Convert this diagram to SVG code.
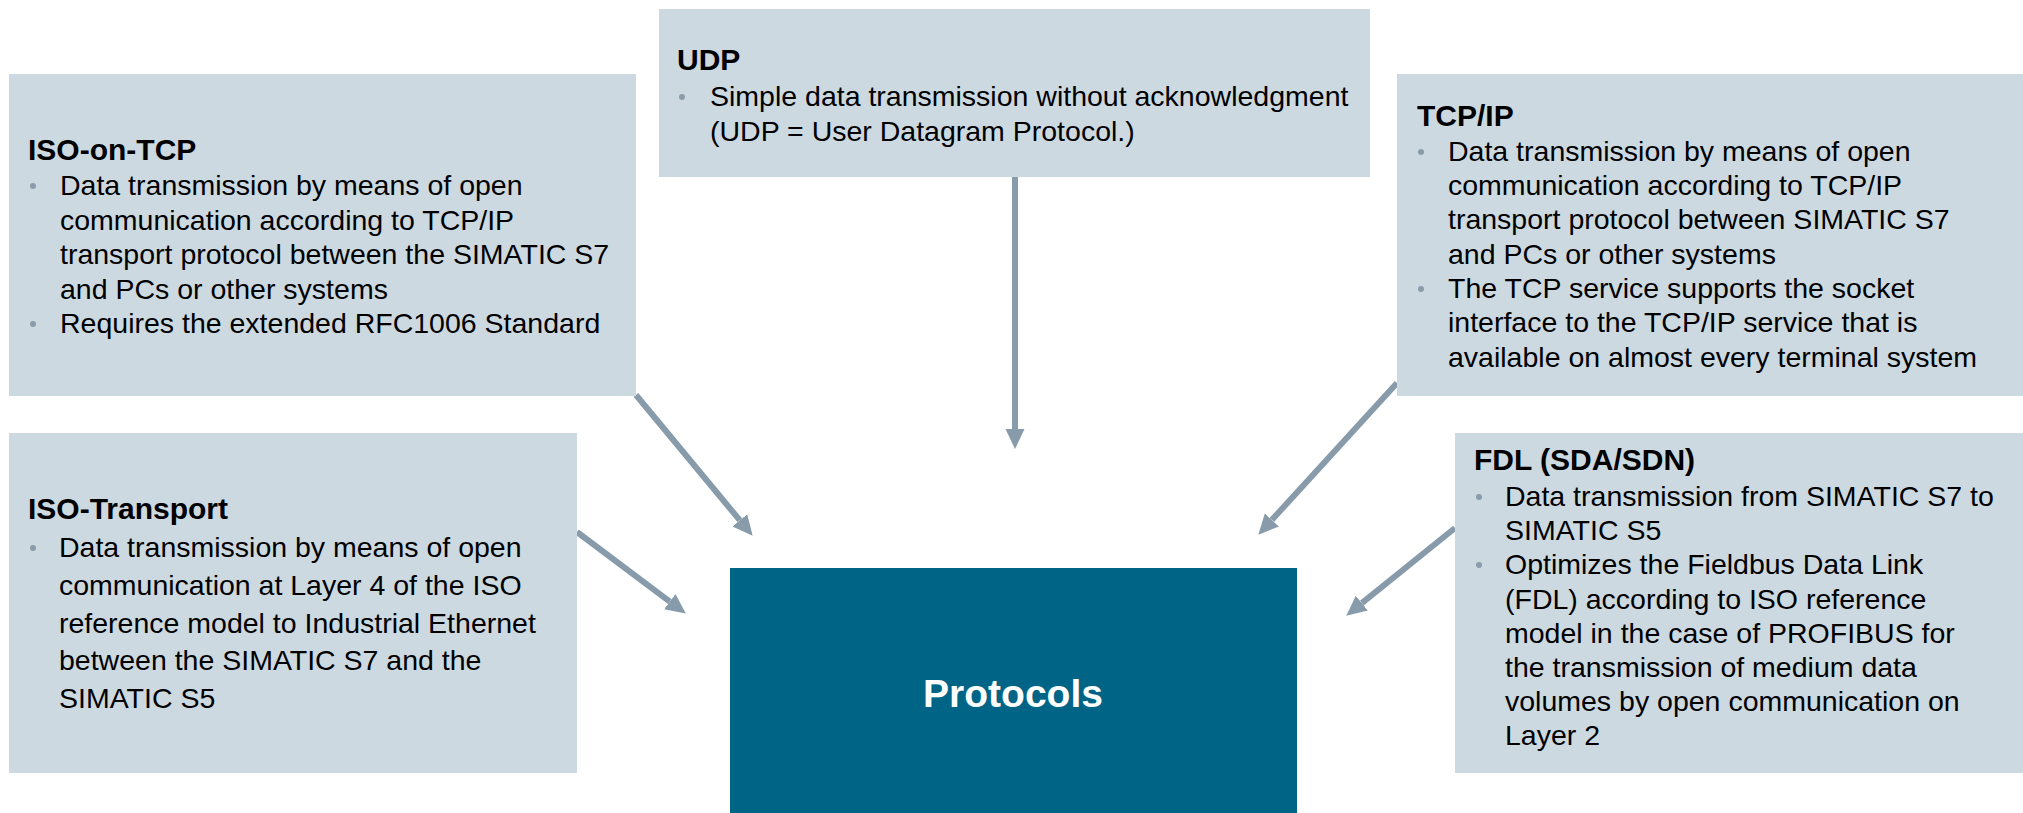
<svg xmlns="http://www.w3.org/2000/svg" width="2023" height="813" viewBox="0 0 2023 813">
<style>
  .box { fill: #cdd9e1; }
  .title { font-family: "Liberation Sans", Arial, sans-serif; font-weight: bold; font-size: 30px; fill: #000; }
  .body { font-family: "Liberation Sans", Arial, sans-serif; font-size: 28.5px; fill: #000; }
  .dot { fill: #8a9cab; }
  .conn { stroke: #879bab; stroke-width: 6; fill: none; marker-end: url(#head); }
  .center { fill: #006487; }
  .ctext { font-family: "Liberation Sans", Arial, sans-serif; font-weight: bold; font-size: 39px; fill: #fff; text-anchor: middle; }
</style>
<defs>
  <marker id="head" markerUnits="userSpaceOnUse" markerWidth="20" markerHeight="20" refX="0" refY="9.5" orient="auto" viewBox="0 0 20 19">
    <path d="M0,0 L20,9.5 L0,19 Z" fill="#879bab"/>
  </marker>
</defs>
<rect width="2023" height="813" fill="#fff"/>

<g id="connectors">
  <path class="conn" d="M636,395 L739.9,520.4"/>
  <path class="conn" d="M577,532 L669.8,601.6"/>
  <path class="conn" d="M1015,177 L1015,429"/>
  <path class="conn" d="M1397,383 L1271.8,520"/>
  <path class="conn" d="M1455,528 L1361.8,603.1"/>
</g>

<g id="node-iso-on-tcp">
  <rect class="box" x="9" y="74" width="627" height="322"/>
  <text class="title" x="28" y="160">ISO-on-TCP</text>
  <circle class="dot" cx="33" cy="186" r="3"/>
  <text class="body" x="60" y="195">Data transmission by means of open</text>
  <text class="body" x="60" y="229.5">communication according to TCP/IP</text>
  <text class="body" x="60" y="264">transport protocol between the SIMATIC S7</text>
  <text class="body" x="60" y="298.5">and PCs or other systems</text>
  <circle class="dot" cx="33" cy="324" r="3"/>
  <text class="body" x="60" y="333">Requires the extended RFC1006 Standard</text>
</g>

<g id="node-udp">
  <rect class="box" x="659" y="9" width="711" height="168"/>
  <text class="title" x="677" y="70">UDP</text>
  <circle class="dot" cx="682" cy="97" r="3"/>
  <text class="body" x="710" y="106">Simple data transmission without acknowledgment</text>
  <text class="body" x="710" y="141">(UDP = User Datagram Protocol.)</text>
</g>

<g id="node-tcp-ip">
  <rect class="box" x="1397" y="74" width="626" height="322"/>
  <text class="title" x="1417" y="126">TCP/IP</text>
  <circle class="dot" cx="1421" cy="152" r="3"/>
  <text class="body" x="1448" y="161">Data transmission by means of open</text>
  <text class="body" x="1448" y="195">communication according to TCP/IP</text>
  <text class="body" x="1448" y="229">transport protocol between SIMATIC S7</text>
  <text class="body" x="1448" y="263.5">and PCs or other systems</text>
  <circle class="dot" cx="1421" cy="289" r="3"/>
  <text class="body" x="1448" y="298">The TCP service supports the socket</text>
  <text class="body" x="1448" y="332">interface to the TCP/IP service that is</text>
  <text class="body" x="1448" y="366.5">available on almost every terminal system</text>
</g>

<g id="node-iso-transport">
  <rect class="box" x="9" y="433" width="568" height="340"/>
  <text class="title" x="28" y="519">ISO-Transport</text>
  <circle class="dot" cx="33" cy="548" r="3"/>
  <text class="body" x="59" y="557">Data transmission by means of open</text>
  <text class="body" x="59" y="594.5">communication at Layer 4 of the ISO</text>
  <text class="body" x="59" y="632.5">reference model to Industrial Ethernet</text>
  <text class="body" x="59" y="670">between the SIMATIC S7 and the</text>
  <text class="body" x="59" y="707.5">SIMATIC S5</text>
</g>

<g id="node-fdl">
  <rect class="box" x="1455" y="433" width="568" height="340"/>
  <text class="title" x="1474" y="470">FDL (SDA/SDN)</text>
  <circle class="dot" cx="1479" cy="497" r="3"/>
  <text class="body" x="1505" y="506">Data transmission from SIMATIC S7 to</text>
  <text class="body" x="1505" y="540">SIMATIC S5</text>
  <circle class="dot" cx="1479" cy="565" r="3"/>
  <text class="body" x="1505" y="574">Optimizes the Fieldbus Data Link</text>
  <text class="body" x="1505" y="608.5">(FDL) according to ISO reference</text>
  <text class="body" x="1505" y="642.5">model in the case of PROFIBUS for</text>
  <text class="body" x="1505" y="677">the transmission of medium data</text>
  <text class="body" x="1505" y="711">volumes by open communication on</text>
  <text class="body" x="1505" y="745">Layer 2</text>
</g>

<g id="node-protocols">
  <rect class="center" x="730" y="568" width="567" height="245"/>
  <text class="ctext" x="1013" y="707">Protocols</text>
</g>
</svg>
